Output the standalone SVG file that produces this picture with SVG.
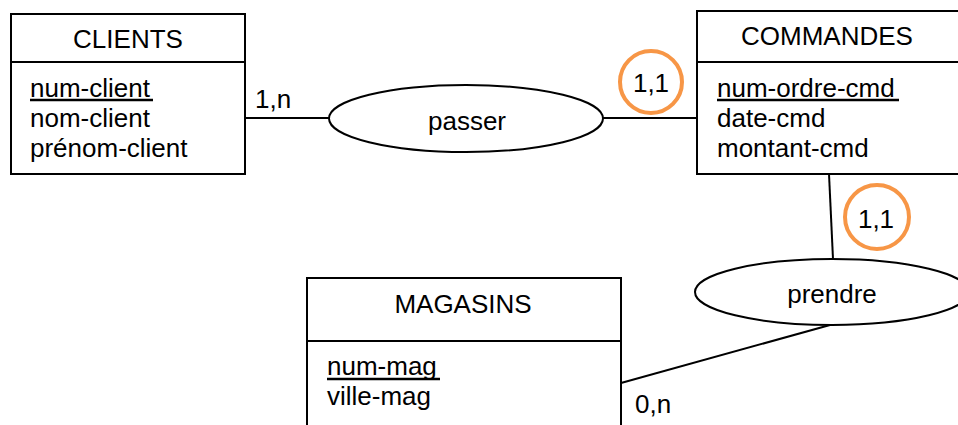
<svg xmlns="http://www.w3.org/2000/svg" width="958" height="425" viewBox="0 0 958 425">
<style>
text{font-family:"Liberation Sans",Arial,sans-serif;font-size:26px;fill:#000}
.c{text-anchor:middle}
.box{fill:#fff;stroke:#000;stroke-width:2}
.ln{stroke:#000;stroke-width:2;fill:none}
.ul{stroke:#000;stroke-width:2.5}
.ell{fill:#fff;stroke:#000;stroke-width:2}
.hl{fill:none;stroke:#F79646;stroke-width:4}
</style>
<rect width="958" height="425" fill="#fff"/>
<g id="connectors">
<line class="ln" x1="245" y1="118" x2="330" y2="118"/>
<line class="ln" x1="603" y1="118" x2="697" y2="118"/>
<line class="ln" x1="829" y1="174" x2="833" y2="259"/>
<line class="ln" x1="621" y1="383" x2="830" y2="325"/>
<text x="255" y="108">1,n</text>
<text x="635" y="413">0,n</text>
</g>
<g id="clients">
<rect class="box" x="11" y="14" width="234" height="160"/>
<line class="ln" x1="11" y1="62" x2="245" y2="62"/>
<text class="c" x="128" y="48">CLIENTS</text>
<text x="30" y="97">num-client</text>
<line class="ul" x1="30" y1="100" x2="153" y2="100"/>
<text x="30" y="127">nom-client</text>
<text x="30" y="157">prénom-client</text>
</g>
<g id="commandes">
<rect class="box" x="697" y="11" width="270" height="163"/>
<line class="ln" x1="697" y1="62" x2="958" y2="62"/>
<text class="c" x="827" y="45">COMMANDES</text>
<text x="717" y="97">num-ordre-cmd</text>
<line class="ul" x1="717" y1="100" x2="899" y2="100"/>
<text x="717" y="127">date-cmd</text>
<text x="717" y="157">montant-cmd</text>
</g>
<g id="magasins">
<rect class="box" x="307" y="278" width="314" height="160"/>
<line class="ln" x1="307" y1="341" x2="621" y2="341"/>
<text class="c" x="463" y="313">MAGASINS</text>
<text x="327" y="375">num-mag</text>
<line class="ul" x1="327" y1="379" x2="440" y2="379"/>
<text x="327" y="405">ville-mag</text>
</g>
<g id="passer">
<ellipse class="ell" cx="466" cy="118.5" rx="137" ry="33.5"/>
<text class="c" x="467" y="130">passer</text>
</g>
<g id="prendre">
<ellipse class="ell" cx="832" cy="292" rx="137" ry="33"/>
<text class="c" x="832" y="303">prendre</text>
</g>
<g id="highlight1">
<circle class="hl" cx="651" cy="82" r="31"/>
<text class="c" x="651" y="92">1,1</text>
</g>
<g id="highlight2">
<circle class="hl" cx="877" cy="217" r="32"/>
<text class="c" x="876" y="228">1,1</text>
</g>
</svg>
